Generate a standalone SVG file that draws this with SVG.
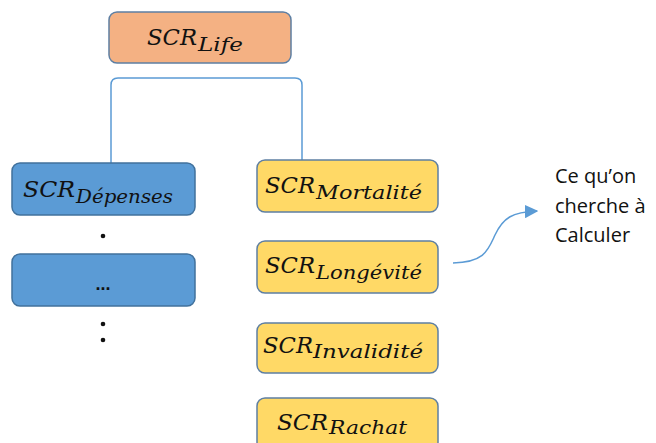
<svg xmlns="http://www.w3.org/2000/svg" width="656" height="443" viewBox="0 0 656 443">
<defs>
<style>
.box{stroke-width:1.5}
.orange{fill:#F4B183;stroke:#5E7FA3}
.blue{fill:#5B9BD5;stroke:#41719C}
.yellow{fill:#FFD966;stroke:#5E7FA3}
.m{font-family:"DejaVu Serif",serif;font-style:italic;fill:#111}
.big{font-size:23px}
.sub{font-size:19px}
.note{font-family:"Open Sans","Liberation Sans",sans-serif;font-size:20px;fill:#111}
.conn{fill:none;stroke:#5B9BD5;stroke-width:1.5}
</style>
<marker id="arr" viewBox="0 0 10 10" refX="9" refY="5" markerWidth="9" markerHeight="9" orient="auto" markerUnits="strokeWidth">
<path d="M0,0 L10,5 L0,10 z" fill="#5B9BD5"/>
</marker>
</defs>
<rect width="656" height="443" fill="#fff"/>
<g id="connectors">
<path class="conn" d="M111,163 V85 Q111,78 118,78 H295 Q302,78 302,85 V160"/>
<path class="conn" d="M453,263 C485,262 488,250 495,235 C503,218 512,212 537,211" marker-end="url(#arr)"/>
</g>
<g id="scr-life">
<rect class="box orange" x="109" y="12" width="182" height="51" rx="8"/>
<text class="m"><tspan class="big" x="147" y="45" textLength="50" lengthAdjust="spacingAndGlyphs">SCR</tspan><tspan class="sub" x="198" y="51" textLength="45" lengthAdjust="spacingAndGlyphs">Life</tspan></text>
</g>
<g id="scr-depenses">
<rect class="box blue" x="12" y="163" width="183" height="52" rx="8"/>
<text class="m"><tspan class="big" x="23" y="197" textLength="52" lengthAdjust="spacingAndGlyphs">SCR</tspan><tspan class="sub" x="76" y="203" textLength="97" lengthAdjust="spacingAndGlyphs">Dépenses</tspan></text>
</g>
<g id="dot1"><circle cx="103" cy="236" r="2.3" fill="#111"/></g>
<g id="etc">
<rect class="box blue" x="12" y="254" width="183" height="52" rx="8"/>
<text x="103" y="290" text-anchor="middle" font-family="Liberation Sans, sans-serif" font-size="18" font-weight="bold" fill="#111">...</text>
</g>
<g id="dots2"><circle cx="103" cy="324" r="2.3" fill="#111"/><circle cx="103" cy="340" r="2.3" fill="#111"/></g>
<g id="scr-mortalite">
<rect class="box yellow" x="257" y="160" width="181" height="52" rx="8"/>
<text class="m"><tspan class="big" x="265" y="193" textLength="50" lengthAdjust="spacingAndGlyphs">SCR</tspan><tspan class="sub" x="316" y="199" textLength="106" lengthAdjust="spacingAndGlyphs">Mortalité</tspan></text>
</g>
<g id="scr-longevite">
<rect class="box yellow" x="257" y="241" width="181" height="52" rx="8"/>
<text class="m"><tspan class="big" x="265" y="273" textLength="50" lengthAdjust="spacingAndGlyphs">SCR</tspan><tspan class="sub" x="316" y="279" textLength="106" lengthAdjust="spacingAndGlyphs">Longévité</tspan></text>
</g>
<g id="scr-invalidite">
<rect class="box yellow" x="257" y="323" width="181" height="50" rx="8"/>
<text class="m"><tspan class="big" x="263" y="353" textLength="50" lengthAdjust="spacingAndGlyphs">SCR</tspan><tspan class="sub" x="313" y="358" textLength="110" lengthAdjust="spacingAndGlyphs">Invalidité</tspan></text>
</g>
<g id="scr-rachat">
<rect class="box yellow" x="257" y="398" width="181" height="52" rx="8"/>
<text class="m"><tspan class="big" x="277" y="430" textLength="51" lengthAdjust="spacingAndGlyphs">SCR</tspan><tspan class="sub" x="329" y="434" textLength="78" lengthAdjust="spacingAndGlyphs">Rachat</tspan></text>
</g>
<g id="note">
<text class="note"><tspan x="555" y="183">Ce qu’on</tspan><tspan x="555" y="213">cherche à</tspan><tspan x="555" y="242">Calculer</tspan></text>
</g>
</svg>
